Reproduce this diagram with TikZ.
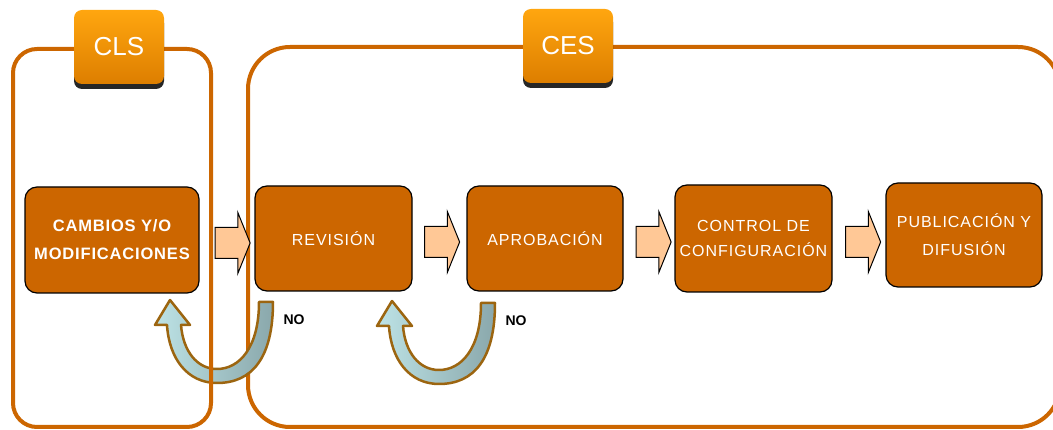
\documentclass[tikz,border=0pt]{standalone}
\usepackage{fontspec}
\setmainfont{Liberation Sans}
\usetikzlibrary{shapes.arrows,shadows}
\definecolor{rust}{HTML}{CC6600}
\definecolor{peach}{HTML}{FFC896}
\definecolor{gold}{HTML}{9C6510}
\definecolor{ice}{HTML}{BDE3E6}
\definecolor{slate}{HTML}{8AA8AB}
\definecolor{tabtop}{HTML}{FFA60F}
\definecolor{tabbot}{HTML}{DD7E00}

\begin{document}
\begin{tikzpicture}[x=1pt, y=-1pt,
  stage/.style = {shape=rectangle, rounded corners=12pt, draw=black,
    line width=1.2pt, fill=rust, text=white, align=center,
    minimum width=157pt, minimum height=105pt,
    font=\fontsize{16}{25}\selectfont\addfontfeature{LetterSpace=6}},
  tab/.style = {shape=rectangle, rounded corners=8pt,
    top color=tabtop, bottom color=tabbot, text=white,
    minimum width=90pt, minimum height=74pt,
    font=\fontsize{26}{30}\selectfont,
    drop shadow={shadow xshift=0pt, shadow yshift=-5pt, fill=black, opacity=.85}},
  frame/.style = {draw=rust, line width=4pt},
  flow/.style = {single arrow, draw=black, fill=peach, line width=1pt,
    inner xsep=0pt, inner ysep=15pt, minimum height=35pt,
    single arrow head extend=15pt, single arrow tip angle=136},
  nolabel/.style = {font=\fontsize{14}{16}\selectfont\bfseries},
  uturn/.pic = {
    \draw[draw=gold, line width=2.5pt, line join=round,
      left color=ice, right color=slate]
      (42,-81) -- (56,-81) .. controls (56,-25) and (35,0) .. (0,0)
      .. controls (-30,0) and (-48,-25) .. (-50,-58) -- (-62,-58)
      -- (-47,-83) -- (-27,-58) -- (-36,-58)
      .. controls (-34,-32) and (-20,-14) .. (0,-14)
      .. controls (22,-14) and (42,-35) .. (42,-81) -- cycle;
  }]
  \clip (0,0) rectangle (1053,430);

  % CES frame
  \draw[frame, rounded corners=42pt] (248,47) rectangle (1060,427);

  % stages
  \node[stage, minimum width=174pt, minimum height=106pt,
    font=\fontsize{16.5}{28}\selectfont\bfseries\addfontfeature{LetterSpace=5}]
    (camb) at (112,240) {CAMBIOS Y/O\\MODIFICACIONES};
  \node[stage] (rev) at (333.5,238.5) {REVISIÓN};
  \node[stage, minimum width=156pt] (apr) at (545,238.5) {APROBACIÓN};
  \node[stage, minimum height=107pt] (ctl) at (753.5,238.5)
    {CONTROL DE\\CONFIGURACIÓN};
  \node[stage, minimum width=156pt, minimum height=104pt,
    font=\fontsize{16}{28}\selectfont\addfontfeature{LetterSpace=6}]
    (pub) at (964,235) {PUBLICACIÓN Y\\DIFUSIÓN};

  \node[flow] (f1) at (229.5,243) {};
  \node[flow] (f2) at (439,242) {};
  \node[flow] (f3) at (650.5,242) {};
  \node[flow] (f4) at (860,242) {};

  % return arrows
  \coordinate (u1) at (217,383);
  \coordinate (u2) at (439,384);
  \pic at (u1) {uturn};
  \pic at (u2) {uturn};
  \node[nolabel] (no1) at (294,320) {NO};
  \node[nolabel] (no2) at (516,321) {NO};

  % CLS frame
  \draw[frame, rounded corners=24pt] (13,49) rectangle (211,427);

  \node[tab] (cls) at (119,47) {CLS};
  \node[tab] (ces) at (568,46) {CES};
\end{tikzpicture}
\end{document}
